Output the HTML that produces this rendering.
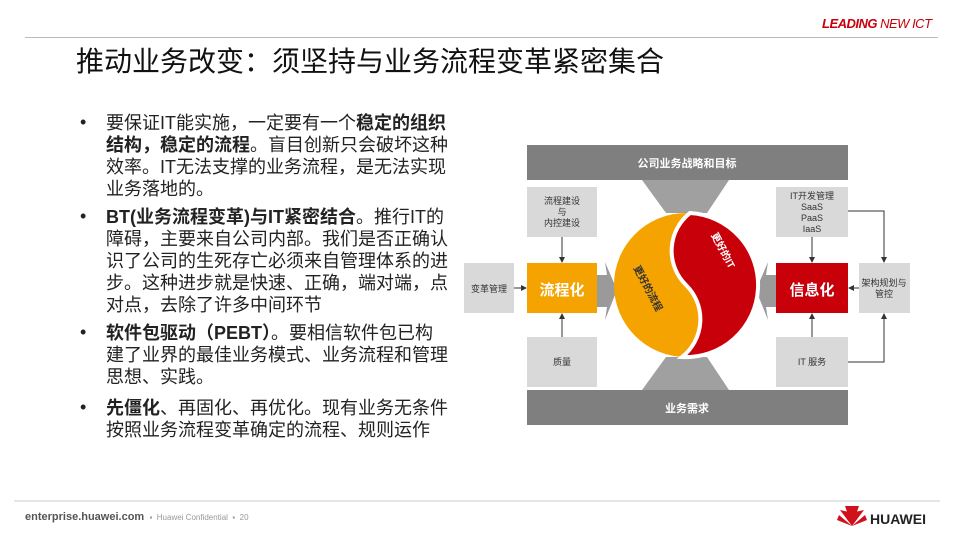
<!DOCTYPE html>
<html><head><meta charset="utf-8"><style>
body{margin:0;width:960px;height:540px;background:#fff;position:relative;overflow:hidden;font-family:"Liberation Sans","Noto Sans CJK SC",sans-serif;}
.abs{position:absolute;}
.t{position:absolute;left:106px;font-size:18px;line-height:22px;color:#222;white-space:nowrap;}
.d{position:absolute;left:80px;font-size:18px;color:#222;}
b{font-weight:bold;}
</style></head><body>
<div class="abs" style="left:822px;top:16px;font-size:13px;font-style:italic;font-weight:bold;letter-spacing:-0.5px;color:#c7000b">LEADING <span style="color:#c7000b;font-weight:normal">NEW ICT</span></div>
<div class="abs" style="left:25px;top:37px;width:913px;height:1px;background:#bbb"></div>
<div class="abs" style="left:76px;top:44px;font-size:28px;line-height:36px;color:#111;white-space:nowrap">推动业务改变：须坚持与业务流程变革紧密集合</div>

<div class="d" style="top:112px">•</div>
<div class="t" style="top:112px">要保证IT能实施，一定要有一个<b>稳定的组织</b><br><b>结构，稳定的流程</b>。盲目创新只会破坏这种<br>效率。IT无法支撑的业务流程，是无法实现<br>业务落地的。</div>
<div class="d" style="top:206px">•</div>
<div class="t" style="top:206px"><b>BT(业务流程变革)与IT紧密结合</b>。推行IT的<br>障碍，主要来自公司内部。我们是否正确认<br>识了公司的生死存亡必须来自管理体系的进<br>步。这种进步就是快速、正确，端对端，点<br>对点，去除了许多中间环节</div>
<div class="d" style="top:322px">•</div>
<div class="t" style="top:322px"><b>软件包驱动（PEBT）</b>。要相信软件包已构<br>建了业界的最佳业务模式、业务流程和管理<br>思想、实践。</div>
<div class="d" style="top:397px">•</div>
<div class="t" style="top:397px"><b>先僵化</b>、再固化、再优化。现有业务无条件<br>按照业务流程变革确定的流程、规则运作</div>

<svg class="abs" style="left:0;top:0" width="960" height="540">
<defs><marker id="a" markerWidth="6" markerHeight="6" refX="5" refY="3" orient="auto"><path d="M0,0 L6,3 L0,6z" fill="#333"/></marker></defs>
<rect x="527" y="145" width="321" height="35" fill="#7f7f7f"/>
<rect x="527" y="390" width="321" height="35" fill="#7f7f7f"/>
<text x="687" y="167" font-size="11" fill="#fff" font-weight="bold" text-anchor="middle">公司业务战略和目标</text>
<text x="687" y="412" font-size="11" fill="#fff" font-weight="bold" text-anchor="middle">业务需求</text>
<polygon points="642,180 729,180 707,213 666,213" fill="#a0a0a0"/>
<polygon points="642,390 729,390 707,357 666,357" fill="#a0a0a0"/>
<polygon points="597,275 607,275 605,262 617,290 605,320 607,307 597,307" fill="#9a9a9a"/>
<polygon points="776,275 766,275 768,262 756,290 768,320 766,307 776,307" fill="#9a9a9a"/>
<rect x="527" y="187" width="70" height="50" fill="#d9d9d9"/>
<rect x="527" y="337" width="70" height="50" fill="#d9d9d9"/>
<rect x="464" y="263" width="50" height="50" fill="#d9d9d9"/>
<rect x="527" y="263" width="70" height="50" fill="#f5a300"/>
<rect x="776" y="187" width="72" height="50" fill="#d9d9d9"/>
<rect x="776" y="337" width="72" height="50" fill="#d9d9d9"/>
<rect x="859" y="263" width="51" height="50" fill="#d9d9d9"/>
<rect x="776" y="263" width="72" height="50" fill="#c8000a"/>
<g font-size="9" fill="#333" text-anchor="middle">
<text x="562" y="204">流程建设</text><text x="562" y="215">与</text><text x="562" y="226">内控建设</text>
<text x="562" y="365">质量</text>
<text x="489" y="292">变革管理</text>
<text x="812" y="199">IT开发管理</text><text x="812" y="210">SaaS</text><text x="812" y="221">PaaS</text><text x="812" y="232">IaaS</text>
<text x="812" y="365">IT 服务</text>
<text x="884" y="286">架构规划与</text><text x="884" y="297">管控</text>
</g>
<text x="562" y="295" font-size="15" fill="#fff" font-weight="bold" text-anchor="middle">流程化</text>
<text x="812" y="295" font-size="15" fill="#fff" font-weight="bold" text-anchor="middle">信息化</text>
<g stroke="#333" stroke-width="1" fill="none" marker-end="url(#a)">
<line x1="562" y1="237" x2="562" y2="262"/>
<line x1="562" y1="337" x2="562" y2="314"/>
<line x1="514" y1="288" x2="526" y2="288"/>
<line x1="812" y1="237" x2="812" y2="262"/>
<line x1="812" y1="337" x2="812" y2="314"/>
<line x1="859" y1="288" x2="849" y2="288"/>
<polyline points="848,211 884,211 884,262"/>
<polyline points="848,362 884,362 884,314"/>
</g>
<circle cx="686" cy="285" r="72" fill="#f5a300"/>
<path d="M690,213 A72,72 0 0 1 682,357 A48,48 0 0 0 686,285 A48,48 0 0 1 690,213 Z" fill="#c8000a" stroke="#fff" stroke-width="4"/>
<text transform="translate(645,290) rotate(62)" font-size="10" fill="#333" font-weight="bold" text-anchor="middle">更好的流程</text>
<text transform="translate(720,252) rotate(62)" font-size="10" fill="#fff" font-weight="bold" text-anchor="middle">更好的IT</text>
<line x1="14" y1="501" x2="940" y2="501" stroke="#ccc"/>
<g transform="translate(852,518)" fill="#d0101a">
<path d="M0,8 L-12,-8 L-3,-6z"/><path d="M0,8 L-7,-12 L0,-12z" /><path d="M0,8 L12,-8 L3,-6z"/><path d="M0,8 L7,-12 L0,-12z"/><path d="M0,8 L-15,2 L-13,-3z"/><path d="M0,8 L15,2 L13,-3z"/>
</g>
</svg>
<div class="abs" style="left:25px;top:511px;font-size:11px;color:#555;font-weight:bold;white-space:nowrap">enterprise.huawei.com <span style="font-weight:normal;font-size:8px;color:#999">&nbsp;▪&nbsp; Huawei Confidential &nbsp;▪&nbsp; 20</span></div>
<div class="abs" style="left:870px;top:511px;font-size:14px;font-weight:bold;color:#222">HUAWEI</div>
</body></html>
